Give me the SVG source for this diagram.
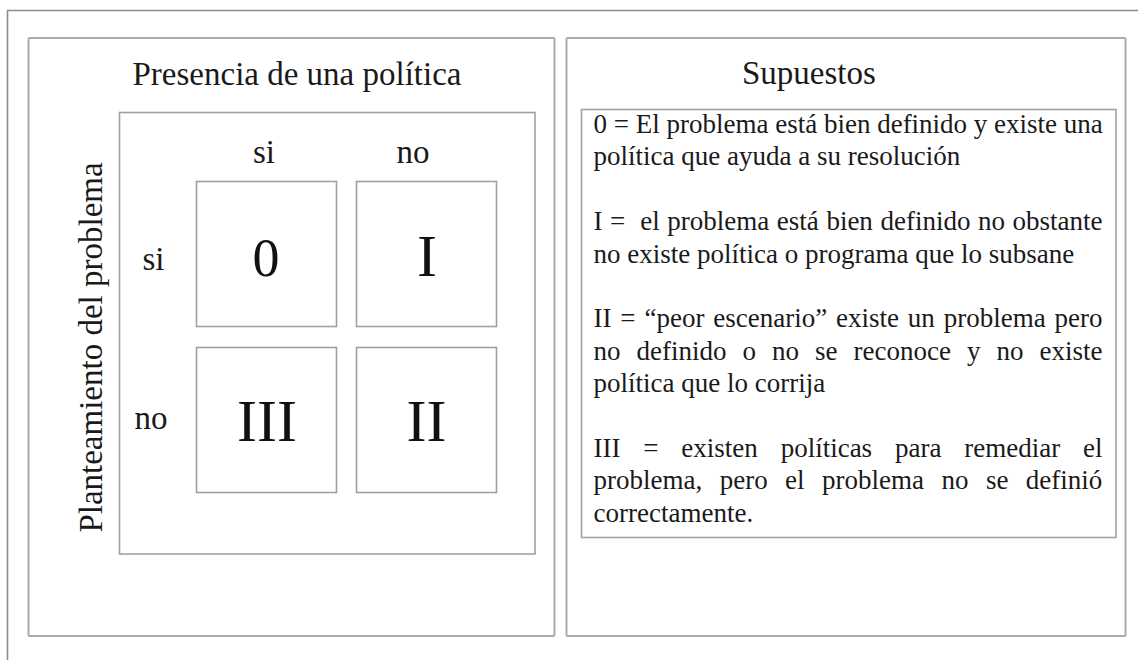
<svg xmlns="http://www.w3.org/2000/svg" width="1138" height="660" viewBox="0 0 1138 660">
<style>
.frame{fill:none;stroke:#8c8c8c;stroke-width:1.6}
.panel{fill:#fff;stroke:#ababab;stroke-width:2}
.box{fill:#fff;stroke:#a0a0a0;stroke-width:1.6}
.t{font-family:"Liberation Serif","Times New Roman",serif;fill:#1a1a1a}
.h{font-size:33px}
.lbl{font-size:33px;text-anchor:middle}
.num{text-anchor:middle;fill:#111}
.body{font-size:27px}
</style>
<rect width="1138" height="660" fill="#fff"/>
<path class="frame" d="M7.5 660 V10.5 H1138"/>
<g id="panel-left">
<rect class="panel" x="28.5" y="38" width="526" height="598" rx="1"/>
<text class="t h" x="132.5" y="85">Presencia de una política</text>
<rect class="box" x="119.5" y="112.5" width="415.5" height="441.5"/>
<text class="t h" transform="translate(102 347.5) rotate(-90)" text-anchor="middle">Planteamiento del problema</text>
<text class="t lbl" x="264" y="163">si</text>
<text class="t lbl" x="413" y="163">no</text>
<text class="t lbl" x="153.5" y="270">si</text>
<text class="t lbl" x="151" y="429">no</text>
</g>
<g id="cell-0">
<rect class="box" x="196.5" y="181.5" width="140" height="145"/>
<text class="t num" x="266" y="276" font-size="54">0</text>
</g>
<g id="cell-I">
<rect class="box" x="356.5" y="181.5" width="140" height="145"/>
<text class="t num" x="427" y="276" font-size="60">I</text>
</g>
<g id="cell-III">
<rect class="box" x="196.5" y="347.5" width="140" height="145"/>
<text class="t num" x="267" y="441" font-size="60">III</text>
</g>
<g id="cell-II">
<rect class="box" x="356.5" y="347.5" width="140" height="145"/>
<text class="t num" x="426.5" y="441" font-size="60">II</text>
</g>
<g id="panel-right">
<rect class="panel" x="566.5" y="38" width="559" height="598" rx="1"/>
<text class="t h" x="742" y="84">Supuestos</text>
<rect class="box" x="581.5" y="109.5" width="534.5" height="428"/>
<text class="t body" x="593.5" y="133">0 = El problema está bien definido y existe una</text>
<text class="t body" x="593.5" y="165.4">política que ayuda a su resolución</text>
<text class="t body" x="593.5" y="230.2" word-spacing="0.79" xml:space="preserve">I =  el problema está bien definido no obstante</text>
<text class="t body" x="593.5" y="262.6">no existe política o programa que lo subsane</text>
<text class="t body" x="593.5" y="327.4" word-spacing="2.1">II = “peor escenario” existe un problema pero</text>
<text class="t body" x="593.5" y="359.8" word-spacing="9.26">no definido o no se reconoce y no existe</text>
<text class="t body" x="593.5" y="392.2">política que lo corrija</text>
<text class="t body" x="593.5" y="457" word-spacing="16.07">III = existen políticas para remediar el</text>
<text class="t body" x="593.5" y="489.4" word-spacing="10.7">problema, pero el problema no se definió</text>
<text class="t body" x="593.5" y="521.8">correctamente.</text>
</g>
<g id="connectors"/>
</svg>
